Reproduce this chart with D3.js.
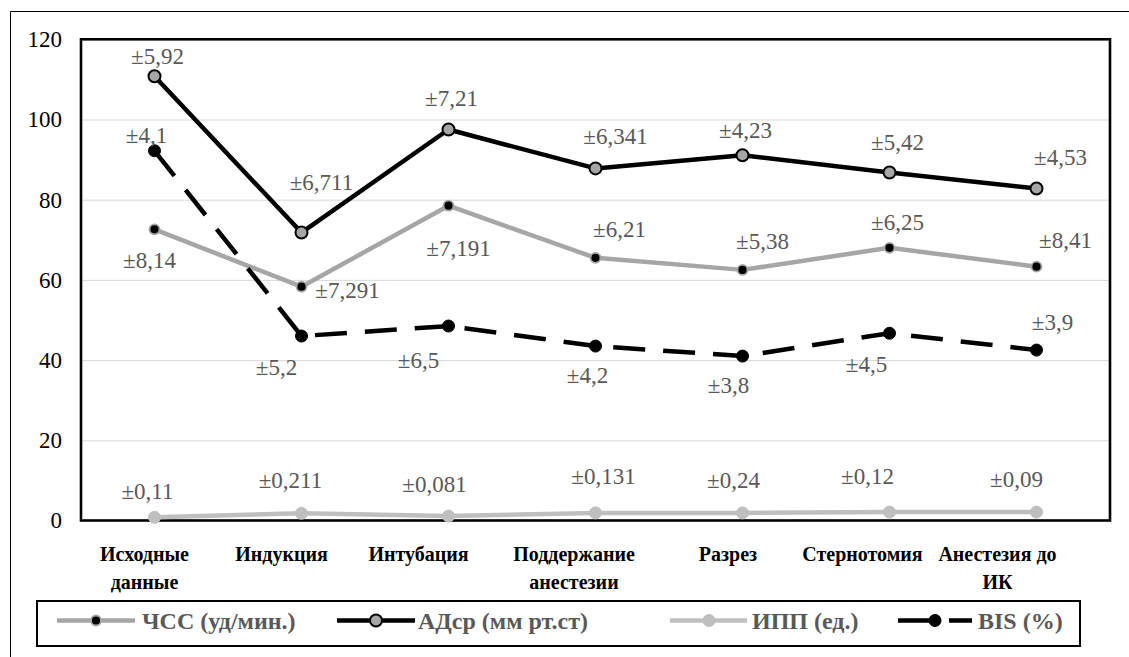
<!DOCTYPE html>
<html>
<head>
<meta charset="utf-8">
<script src="https://cdn.jsdelivr.net/npm/d3@7/dist/d3.min.js"></script>
<style>
  html, body { margin: 0; padding: 0; background: #fff; }
  svg { display: block; }
</style>
</head>
<body>
<svg id="chart" width="1129" height="657"></svg>
<script>
// ---------- DATA ----------
const categories = ["Исходные данные", "Индукция", "Интубация", "Поддержание анестезии", "Разрез", "Стернотомия", "Анестезия до ИК"];
const categoryLines = [["Исходные", "данные"], ["Индукция"], ["Интубация"], ["Поддержание", "анестезии"], ["Разрез"], ["Стернотомия"], ["Анестезия до", "ИК"]];

const hrValues  = [72.6, 58.3, 78.5, 65.5, 62.5, 68.0, 63.3];   // ЧСС (уд/мин.)
const mapValues = [110.8, 71.8, 97.5, 87.8, 91.1, 86.8, 82.8];  // АДср (мм рт.ст)
const ippValues = [0.8, 1.8, 1.1, 1.9, 1.9, 2.1, 2.1];          // ИПП (ед.)
const bisValues = [92.2, 46.0, 48.5, 43.5, 41.0, 46.7, 42.5];   // BIS (%)

const hrErr  = ["±8,14", "±7,291", "±7,191", "±6,21", "±5,38", "±6,25", "±8,41"];
const mapErr = ["±5,92", "±6,711", "±7,21", "±6,341", "±4,23", "±5,42", "±4,53"];
const ippErr = ["±0,11", "±0,211", "±0,081", "±0,131", "±0,24", "±0,12", "±0,09"];
const bisErr = ["±4,1", "±5,2", "±6,5", "±4,2", "±3,8", "±4,5", "±3,9"];

const yTicks = [0, 20, 40, 60, 80, 100, 120];
const seriesNames = ["ЧСС (уд/мин.)", "АДср (мм рт.ст)", "ИПП (ед.)", "BIS (%)"];

// ---------- LAYOUT / STYLE ----------
const plot = { left: 81, right: 1110, top: 39.3, bottom: 520.5 };
const LABEL_GRAY = "#595959";

// font detection: prefer a Times-metric serif
function hasFont(name) {
  const c = document.createElement("canvas").getContext("2d");
  const s = "±0,211 Исходные mmmWWiil";
  c.font = "40px monospace"; const a = c.measureText(s).width;
  c.font = `40px "${name}", monospace`; const b = c.measureText(s).width;
  c.font = "40px sans-serif"; const a2 = c.measureText(s).width;
  c.font = `40px "${name}", sans-serif`; const b2 = c.measureText(s).width;
  return a !== b || a2 !== b2;
}
let FONT, SCALE = 1;
if (hasFont("Liberation Serif")) { FONT = "'Liberation Serif', serif"; }
else if (hasFont("Tinos")) { FONT = "Tinos, serif"; }
else if (hasFont("Nimbus Roman")) { FONT = "'Nimbus Roman', serif"; }
else { FONT = "'DejaVu Serif', serif"; SCALE = 0.84; }
const fs = v => v * SCALE;

// label offsets (dx, dy) relative to each marker
const hrLabelOff  = [[-5, 31], [46, 3], [10, 42], [24, -29], [20, -29], [8, -26], [29, -27]];
const mapLabelOff = [[3, -20], [20, -51], [3, -32], [20, -32], [3, -25], [8, -30], [24, -32]];
const ippLabelOff = [[-7, -26], [-11, -33], [-14, -32], [8, -37], [-9, -33], [-22, -36], [-20, -33]];
const bisLabelOff = [[-8, -16], [-25, 31], [-30, 34], [-8, 29], [-14, 29], [-23, 31], [16, -28]];
const catLabelShift = [-10, -20, -30, -21.5, -14.5, -27, -39];

const svg = d3.select("#chart");

// outer frame
svg.append("path")
  .attr("d", "M10.5,700 L10.5,11.5 L1140,11.5")
  .attr("fill", "none").attr("stroke", "#000").attr("stroke-width", 1);

const x = d3.scalePoint().domain(categories).range([plot.left, plot.right]).padding(0.5);
const y = d3.scaleLinear().domain([0, 120]).range([plot.bottom, plot.top]);

// gridlines
svg.append("g")
  .attr("transform", `translate(${plot.left},0)`)
  .call(d3.axisLeft(y).tickValues(yTicks.filter(t => t > 0 && t < 120)).tickSize(-(plot.right - plot.left)).tickFormat(""))
  .call(g => g.select(".domain").remove())
  .call(g => g.selectAll("line").attr("stroke", "#d9d9d9").attr("stroke-width", 1));

// plot border
svg.append("rect")
  .attr("x", plot.left).attr("y", plot.top)
  .attr("width", plot.right - plot.left).attr("height", plot.bottom - plot.top)
  .attr("fill", "none").attr("stroke", "#000").attr("stroke-width", 2.6);

// y axis labels
svg.append("g")
  .attr("transform", `translate(${plot.left},0)`)
  .call(d3.axisLeft(y).tickValues(yTicks).tickSize(0).tickPadding(19))
  .call(g => g.select(".domain").remove())
  .call(g => g.selectAll("text")
    .attr("font-family", FONT).attr("font-size", fs(23)).attr("fill", "#000"));

// x axis labels
const xg = svg.append("g");
categories.forEach((c, i) => {
  const t = xg.append("text")
    .attr("x", x(c) + catLabelShift[i])
    .attr("y", 561)
    .attr("text-anchor", "middle")
    .attr("font-family", FONT).attr("font-weight", "bold").attr("font-size", fs(20))
    .attr("fill", "#000");
  categoryLines[i].forEach((ln, j) => {
    t.append("tspan").attr("x", x(c) + catLabelShift[i]).attr("dy", j === 0 ? 0 : 27.7).text(ln);
  });
});

const series = [
  { values: hrValues, err: hrErr, off: hrLabelOff, line: "#a6a6a6", dash: null, mFill: "#000", mStroke: "#a6a6a6", r: 5, mw: 1.8 },
  { values: mapValues, err: mapErr, off: mapLabelOff, line: "#000", dash: null, mFill: "#a6a6a6", mStroke: "#000", r: 6, mw: 2 },
  { values: ippValues, err: ippErr, off: ippLabelOff, line: "#bfbfbf", dash: null, mFill: "#bfbfbf", mStroke: "#bfbfbf", r: 6, mw: 1 },
  { values: bisValues, err: bisErr, off: bisLabelOff, line: "#000", dash: "32,18", mFill: "#000", mStroke: "#000", r: 6, mw: 1 }
];

const lineGen = d3.line().x((d, i) => x(categories[i])).y(d => y(d));

series.forEach(s => {
  const g = svg.append("g");
  g.append("path")
    .attr("d", lineGen(s.values))
    .attr("fill", "none").attr("stroke", s.line).attr("stroke-width", 4.5)
    .attr("stroke-linejoin", "round")
    .attr("stroke-dasharray", s.dash);
  g.selectAll("circle").data(s.values).join("circle")
    .attr("cx", (d, i) => x(categories[i]))
    .attr("cy", d => y(d))
    .attr("r", s.r)
    .attr("fill", s.mFill).attr("stroke", s.mStroke).attr("stroke-width", s.mw);
});

// data labels
series.forEach(s => {
  svg.append("g").selectAll("text").data(s.values).join("text")
    .attr("x", (d, i) => x(categories[i]) + s.off[i][0])
    .attr("y", (d, i) => y(d) + s.off[i][1])
    .attr("dy", "0.35em")
    .attr("text-anchor", "middle")
    .attr("font-family", FONT).attr("font-size", fs(23))
    .attr("fill", LABEL_GRAY)
    .text((d, i) => s.err[i]);
});

// legend
const lg = svg.append("g");
lg.append("rect").attr("x", 37).attr("y", 601).attr("width", 1043).attr("height", 45)
  .attr("fill", "#fff").attr("stroke", "#000").attr("stroke-width", 2);
const legendItems = [
  { x1: 57, x2: 135, mx: 96, tx: 142, s: series[0], dash: null },
  { x1: 337, x2: 415, mx: 376, tx: 418, s: series[1], dash: null },
  { x1: 670, x2: 747, mx: 709, tx: 752, s: series[2], dash: null },
  { x1: 898, x2: 972, mx: 935, tx: 978, s: series[3], dash: "37,14" }
];
const ly = 620.5;
legendItems.forEach((it, i) => {
  lg.append("line").attr("x1", it.x1).attr("x2", it.x2).attr("y1", ly).attr("y2", ly)
    .attr("stroke", it.s.line).attr("stroke-width", 4.5).attr("stroke-dasharray", it.dash);
  lg.append("circle").attr("cx", it.mx).attr("cy", ly).attr("r", it.s.r)
    .attr("fill", it.s.mFill).attr("stroke", it.s.mStroke).attr("stroke-width", it.s.mw);
  lg.append("text").attr("x", it.tx).attr("y", ly).attr("dy", "0.35em")
    .attr("font-family", FONT).attr("font-weight", "bold").attr("font-size", fs(24))
    .attr("fill", LABEL_GRAY).text(seriesNames[i]);
});
</script>
</body>
</html>
